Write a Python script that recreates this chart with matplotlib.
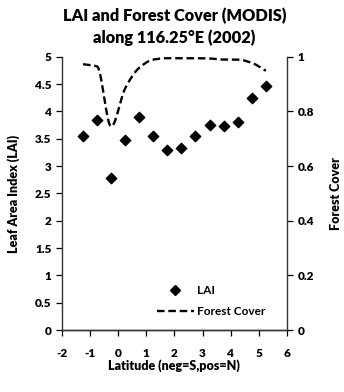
import numpy as np
import matplotlib
matplotlib.use("Agg")
import matplotlib.pyplot as plt
from matplotlib.lines import Line2D

plt.rcParams['font.family'] = ['Lato', 'DejaVu Sans']

latitude = [-1.25, -0.75, -0.25, 0.25, 0.75, 1.25, 1.75, 2.25, 2.75, 3.25, 3.75, 4.25, 4.75, 5.25]
lai = [3.55, 3.85, 2.79, 3.48, 3.89, 3.55, 3.30, 3.33, 3.56, 3.76, 3.73, 3.80, 4.24, 4.46]
forest_cover = [0.973, 0.965, 0.745, 0.885, 0.960, 0.990, 0.995, 0.995, 0.995, 0.994, 0.99, 0.99, 0.978, 0.949]

x_ticks = [-2, -1, 0, 1, 2, 3, 4, 5, 6]
y_ticks = [0, 0.5, 1, 1.5, 2, 2.5, 3, 3.5, 4, 4.5, 5]
y_tick_labels = ['0', '0.5', '1', '1.5', '2', '2.5', '3', '3.5', '4', '4.5', '5']
y2_ticks = [0, 0.2, 0.4, 0.6, 0.8, 1]
y2_tick_labels = ['0', '0.2', '0.4', '0.6', '0.8', '1']


def monotone_cubic(x, y, n=30):
    x = np.asarray(x, float); y = np.asarray(y, float)
    h = np.diff(x); d = np.diff(y) / h
    m = np.zeros_like(y)
    m[0] = d[0]; m[-1] = d[-1]
    for i in range(1, len(x) - 1):
        if d[i - 1] * d[i] <= 0:
            m[i] = 0.0
        else:
            w1 = 2 * h[i] + h[i - 1]; w2 = h[i] + 2 * h[i - 1]
            m[i] = (w1 + w2) / (w1 / d[i - 1] + w2 / d[i])
    xs, ys = [], []
    for i in range(len(x) - 1):
        t = np.linspace(0, 1, n, endpoint=False)
        h00 = 2 * t**3 - 3 * t**2 + 1; h10 = t**3 - 2 * t**2 + t
        h01 = -2 * t**3 + 3 * t**2; h11 = t**3 - t**2
        xs.extend(x[i] + t * h[i])
        ys.extend(h00 * y[i] + h10 * h[i] * m[i] + h01 * y[i + 1] + h11 * h[i] * m[i + 1])
    xs.append(x[-1]); ys.append(y[-1])
    return np.array(xs), np.array(ys)


fig = plt.figure(figsize=(3.44, 3.92), dpi=100)
ax = fig.add_axes([0.180, 0.158, 0.654, 0.697])
ax2 = ax.twinx()

ax.scatter(latitude, lai, marker='D', s=28, color='black', zorder=3)
sx, sy = monotone_cubic(latitude, forest_cover)
ax2.plot(sx, sy, color='black', linestyle=(0, (3.2, 1.6)), linewidth=1.7)

ax.set_xlim(-2, 6)
ax.set_ylim(0, 5)
ax2.set_ylim(0, 1)
ax.set_xticks(x_ticks)
ax.set_xticklabels([str(v) for v in x_ticks])
ax.set_yticks(y_ticks)
ax.set_yticklabels(y_tick_labels)
ax2.set_yticks(y2_ticks)
ax2.set_yticklabels(y2_tick_labels)

for a in (ax, ax2):
    a.spines['top'].set_visible(False)
    for s in a.spines.values():
        s.set_color('#333333')
        s.set_linewidth(1.0)
    a.tick_params(labelsize=8.5, length=4, width=0.9, direction='out', colors='black')
    for lbl in a.get_xticklabels() + a.get_yticklabels():
        lbl.set_fontweight('heavy')
ax.tick_params(axis='x', pad=9)
ax2.spines['left'].set_visible(False)
ax.spines['right'].set_visible(False)

ax.set_xlabel('Latitude (neg=S,pos=N)', fontsize=9, fontweight='heavy', labelpad=0)
ax.set_ylabel('Leaf Area Index (LAI)', fontsize=9, fontweight='heavy', labelpad=11)
ax2.set_ylabel('Forest Cover', fontsize=9, fontweight='heavy', labelpad=12)
ax.set_title('LAI and Forest Cover (MODIS)\nalong 116.25°E (2002)', fontsize=11.8,
             fontweight='heavy', pad=10, linespacing=1.35)

handles = [Line2D([], [], marker='D', color='black', linestyle='none', markersize=5.5),
           Line2D([], [], color='black', linestyle=(0, (3.2, 1.6)), linewidth=1.7)]
leg = ax2.legend(handles, ['LAI', 'Forest Cover'], loc='lower right',
                 bbox_to_anchor=(0.95, 0.01), frameon=False, fontsize=8.5,
                 handlelength=3.2, handletextpad=0.2, labelspacing=0.8)
for t in leg.get_texts():
    t.set_fontweight('bold')

fig.savefig('out.png', dpi=100)
